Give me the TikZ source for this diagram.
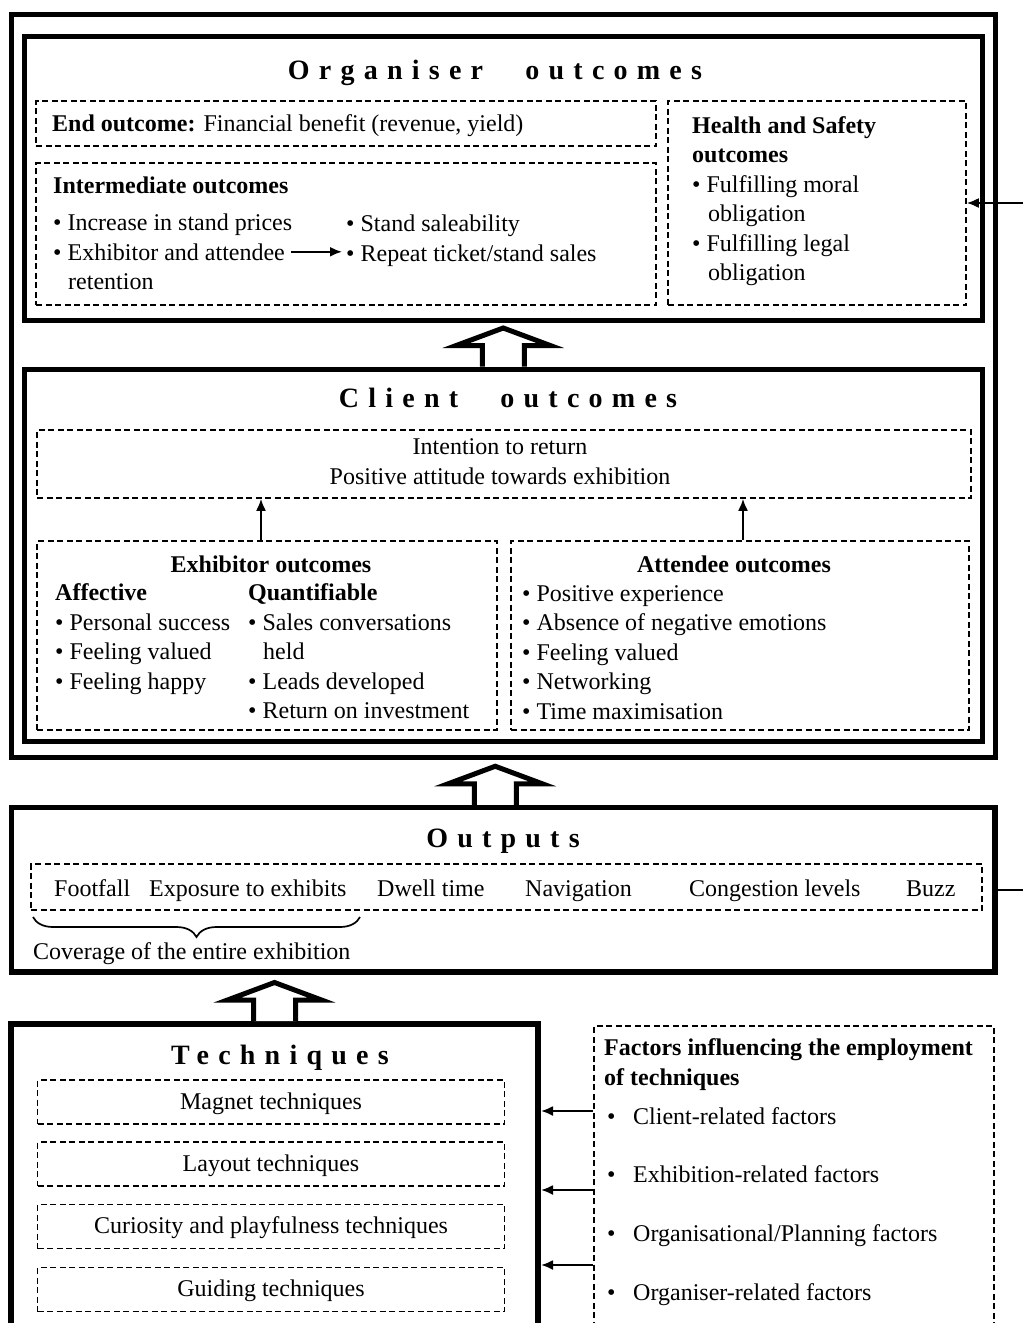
\documentclass[tikz,border=0pt]{standalone}
\usepackage{fontspec}
\setmainfont{Liberation Serif}
\usetikzlibrary{arrows.meta, calc, decorations.pathreplacing}

\tikzset{blockup/.pic={
  \draw[line width=5pt, fill=white, line join=miter]
    (-21,0) -- (-21,-21) -- (-47,-21) -- (0,-38.5) -- (47,-21) -- (21,-21) -- (21,0);
}}

\begin{document}
\begin{tikzpicture}[x=1pt, y=-1pt,
  frame/.style={draw, line width=5pt, inner sep=0pt},
  dbox/.style={draw, line width=1.6pt, dash pattern=on 6pt off 3.5pt, inner sep=0pt},
  txt/.style={anchor=base west, inner sep=0pt, font=\fontsize{24}{30}\selectfont},
  btxt/.style={txt, font=\fontsize{24}{30}\selectfont\bfseries},
  title/.style={anchor=base, inner sep=0pt, font=\fontsize{28}{32}\selectfont\bfseries\addfontfeature{LetterSpace=33}},
  conn/.style={line width=2pt, -{Latex[length=12pt, width=10pt]}}]

\useasboundingbox (0,0) rectangle (1023,1323);

% Thick frames
\node[frame, minimum width=983.5, minimum height=743] (outer) at (503.25,385.5) {};
\node[frame, minimum width=957.5, minimum height=284] (org) at (503.25,178) {};
\node[frame, minimum width=957.5, minimum height=372.5] (cli) at (503.25,555.25) {};
\node[frame, line width=5.5pt, minimum width=983.5, minimum height=164.5] (outbox) at (503.25,889.75) {};
\node[frame, line width=6pt, minimum width=527, minimum height=320] (tech) at (274.5,1184) {};

% Block arrows
\pic at (cli.north) {blockup};
\pic at ([xshift=-8pt]outbox.north) {blockup};
\pic at (tech.north) {blockup};

% Organiser outcomes
\node[title] (orgtitle) at (495,79) {Organiser\hspace{26pt} outcomes};
\node[dbox, minimum width=620, minimum height=45] (endbox) at (346,123.5) {};
\node[txt] (endtxt) at (52,131) {\textbf{End outcome:} Financial benefit (revenue, yield)};
\node[dbox, minimum width=620, minimum height=142] (intbox) at (346,234) {};
\node[btxt] (inthead) at (53,193) {Intermediate outcomes};
\node[txt] (int1) at (53,230) {• Increase in stand prices};
\node[txt] (int2) at (53,260) {• Exhibitor and attendee};
\node[txt] (int3) at (68,289) {retention};
\node[txt] (rep1) at (346,231) {• Stand saleability};
\node[txt] (rep2) at (346,261) {• Repeat ticket/stand sales};
\draw[conn, shorten <=6pt, shorten >=4pt] (int2.east) -- (int2.east -| rep2.west);
\node[dbox, minimum width=298, minimum height=204] (hsbox) at (817,203) {};
\node[btxt] (hs1) at (692,133) {Health and Safety};
\node[btxt] (hs2) at (692,162) {outcomes};
\node[txt] (hs3) at (692,192) {• Fulfilling moral};
\node[txt] (hs4) at (708,221) {obligation};
\node[txt] (hs5) at (692,251) {• Fulfilling legal};
\node[txt] (hs6) at (708,280) {obligation};

% Client outcomes
\node[title] (clititle) at (508,407) {Client\hspace{26pt} outcomes};
\node[dbox, minimum width=934, minimum height=68] (retbox) at (504,464) {};
\node[txt, anchor=base] (ret1) at (500,454) {Intention to return};
\node[txt, anchor=base] (ret2) at (500,484) {Positive attitude towards exhibition};
\node[dbox, minimum width=460, minimum height=189] (exhbox) at (267,635.5) {};
\node[btxt, anchor=base] (exhhead) at (271,572) {Exhibitor outcomes};
\node[btxt] (affhead) at (55,600) {Affective};
\node[btxt] (quahead) at (248,600) {Quantifiable};
\foreach \t [count=\i] in {Personal success, Feeling valued, Feeling happy}
  \node[txt] (aff\i) at (55,{630+29.5*(\i-1)}) {• \t};
\node[txt] (qua1) at (248,630) {• Sales conversations};
\node[txt] (qua2) at (263,659.5) {held};
\node[txt] (qua3) at (248,689) {• Leads developed};
\node[txt] (qua4) at (248,718.5) {• Return on investment};
\node[dbox, minimum width=458, minimum height=189] (attbox) at (740,635.5) {};
\node[btxt, anchor=base] (atthead) at (734,572) {Attendee outcomes};
\foreach \t [count=\i] in {Positive experience, Absence of negative emotions, Feeling valued, Networking, Time maximisation}
  \node[txt] (att\i) at (522,{601+29.5*(\i-1)}) {• \t};
\draw[conn] ([xshift=-6pt]exhbox.north) -- ([xshift=-6pt]exhbox.north |- retbox.south);
\draw[conn] ([xshift=3pt]attbox.north) -- ([xshift=3pt]attbox.north |- retbox.south);

% Outputs
\node[title] (outtitle) at (503,847) {Outputs};
\node[dbox, minimum width=951, minimum height=46] (itembox) at (506.5,887) {};
\foreach \x/\t [count=\i] in {54/Footfall, 149/Exposure to exhibits, 377/Dwell time, 525/Navigation, 689/Congestion levels, 906/Buzz}
  \node[txt] (item\i) at (\x,896) {\t};
\draw[line width=1.7pt, decorate, decoration={brace, mirror, amplitude=20pt}] (33,917) -- (360,917);
\node[txt] (cover) at (33,959) {Coverage of the entire exhibition};
\draw[conn] (outbox.east) -- ++(50,0) |- (hsbox.east);

% Techniques
\node[title] (techtitle) at (280,1064) {Techniques};
\foreach \t/\yc [count=\i] in {Magnet techniques/1102, Layout techniques/1164, Curiosity and playfulness techniques/1226.5, Guiding techniques/1289.5}
  \node[dbox, font=\fontsize{24}{30}\selectfont, text height=17pt, text depth=3pt, minimum width=467, minimum height=44] (tq\i) at (271,\yc) {\t};

% Factors
\node[dbox, minimum width=400, minimum height=320] (factors) at (794,1186) {};
\node[btxt] (fachead1) at (604,1055) {Factors influencing the employment};
\node[btxt] (fachead2) at (604,1085) {of techniques};
\foreach \t [count=\i] in {Client-related factors, Exhibition-related factors, Organisational/Planning factors, Organiser-related factors}
  \node[txt] (fac\i) at (607,{1124+58.67*(\i-1)}) {\makebox[26pt][l]{•}\t};
\foreach \dy [count=\i] in {73,-6,-81} {
  \coordinate (tip\i) at ([yshift=\dy pt]tech.east);
  \draw[conn] (tip\i -| factors.west) -- (tip\i);
}
\end{tikzpicture}
\end{document}
